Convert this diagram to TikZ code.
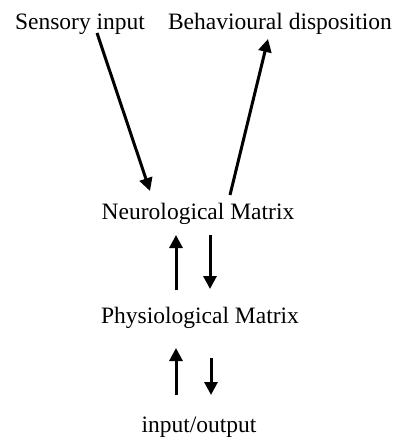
\documentclass[tikz,border=0pt]{standalone}
\usepackage{fontspec}
\setmainfont{Liberation Serif}
\usetikzlibrary{arrows.meta}
\begin{document}
\begin{tikzpicture}[x=1pt,y=-1pt,
  lbl/.style={inner sep=0pt,anchor=base,font=\fontsize{23.5}{28}\selectfont},
  arr/.style={line width=3pt,-{Triangle[length=13pt,width=13pt]}}]
\useasboundingbox (0,0) rectangle (394,438);
\node[lbl] (sens) at (80,30) {Sensory input};
\node[lbl] (beh) at (280,30) {Behavioural disposition};
\node[lbl] (neuro) at (198,219) {Neurological Matrix};
\node[lbl] (phys) at (200,323) {Physiological Matrix};
\node[lbl] (io) at (199,432) {input/output};
\draw[arr] ([shift={(17,3)}]sens.base) -- ([shift={(-48,-28)}]neuro.base);
\draw[arr] ([shift={(32,-24)}]neuro.base) -- ([shift={(-12,9)}]beh.base);
\draw[arr] ([shift={(-24,-33)}]phys.base) -- ([shift={(-22,16)}]neuro.base);
\draw[arr] ([shift={(12,16)}]neuro.base) -- ([shift={(10,-34)}]phys.base);
\draw[arr] ([shift={(-23,-37)}]io.base) -- ([shift={(-24,25)}]phys.base);
\draw[arr] ([shift={(11,35)}]phys.base) -- ([shift={(12,-37)}]io.base);
\end{tikzpicture}
\end{document}
